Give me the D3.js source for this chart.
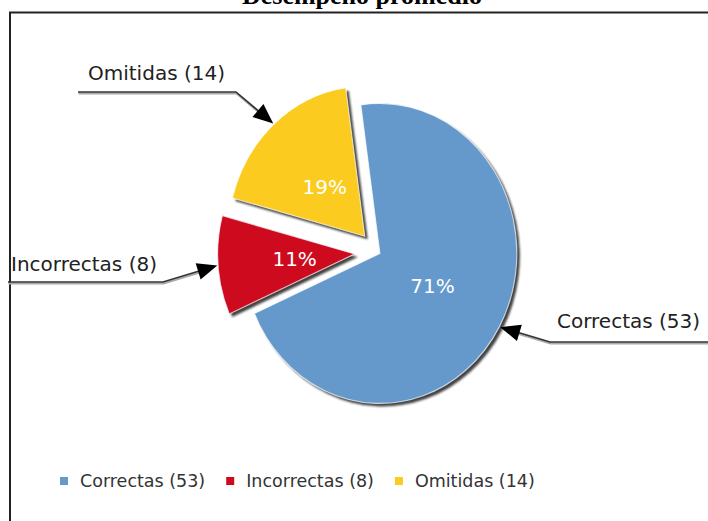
<!DOCTYPE html>
<html><head><meta charset="utf-8">
<script src="https://cdn.jsdelivr.net/npm/d3@7"></script>
<style>body{margin:0;background:#fff}svg{display:block}</style>
</head><body><svg id="c" width="708" height="521"></svg>
<script>
// ---------- data ----------
const title = "Desempeño promedio";
const categories = ["Correctas", "Incorrectas", "Omitidas"];
const values = [53, 8, 14];
const colors = ["#6598cb", "#cd0a1e", "#fccb1f"];

// ---------- layout / style ----------
const W = 708, H = 521;
const center = {x: 377.5, y: 252};
const R = 150, kx = 0.913;
const startDeg = -8;
const explode = [3, 25, 21];
const labelLayout = [
  {text: [557, 328], line: [[708, 342], [550, 342]]},
  {text: [11, 271],  line: [[8, 282], [163, 282]]},
  {text: [88, 80],   line: [[78, 92], [236, 92]]}
];
const font = "'DejaVu Sans', Verdana, sans-serif";

const svg = d3.select("#c");
const defs = svg.append("defs");
defs.append("filter").attr("id", "sh").attr("x", "-10%").attr("y", "-10%").attr("width", "130%").attr("height", "130%")
  .append("feGaussianBlur").attr("stdDeviation", 0.9);

svg.append("rect").attr("width", W).attr("height", H).attr("fill", "#fff");

// title + frame
svg.append("text").attr("x", 362).attr("y", 4).attr("text-anchor", "middle")
  .attr("font-family", "'Liberation Serif', 'Times New Roman', serif").attr("font-weight", "bold")
  .attr("font-size", 26).attr("fill", "#000").text(title);
svg.append("line").attr("x1", 9).attr("x2", W).attr("y1", 12.5).attr("y2", 12.5).attr("stroke", "#222").attr("stroke-width", 2);
svg.append("line").attr("x1", 10).attr("x2", 10).attr("y1", 12).attr("y2", H).attr("stroke", "#222").attr("stroke-width", 2);

// ---------- pie ----------
const total = d3.sum(values);
const rad = d => d * Math.PI / 180;
const pie = d3.pie().sort(null).startAngle(rad(startDeg)).endAngle(rad(startDeg) + 2 * Math.PI);
const arcs = pie(values);
const arc = d3.arc().innerRadius(0).outerRadius(R);

const tipOf = (a, i) => {
  const m = (a.startAngle + a.endAngle) / 2;
  return {x: center.x + kx * explode[i] * Math.sin(m), y: center.y - explode[i] * Math.cos(m)};
};
const onEllipse = (p, ang, r) => ({x: p.x + kx * r * Math.sin(ang), y: p.y - r * Math.cos(ang)});

const pieG = svg.append("g");
// shadows
pieG.selectAll("path.sh").data(arcs).join("path").attr("class", "sh")
  .attr("d", arc)
  .attr("transform", (a, i) => { const t = tipOf(a, i); return `translate(${t.x + 3},${t.y + 3}) scale(${kx},1)`; })
  .attr("fill", "#222").attr("opacity", 0.85).attr("filter", "url(#sh)");
// slices
pieG.selectAll("path.sl").data(arcs).join("path").attr("class", "sl")
  .attr("d", arc)
  .attr("transform", (a, i) => { const t = tipOf(a, i); return `translate(${t.x},${t.y}) scale(${kx},1)`; })
  .attr("fill", (a, i) => colors[i])
  .attr("stroke", "#fff").attr("stroke-width", 1.2).attr("stroke-opacity", 0.7);

// percent labels
const pct = d3.format(".0%");
svg.selectAll("text.pct").data(arcs).join("text").attr("class", "pct")
  .each(function (a, i) {
    const m = (a.startAngle + a.endAngle) / 2;
    const p = onEllipse(tipOf(a, i), m, R * 0.44);
    d3.select(this).attr("x", p.x).attr("y", p.y + 7);
  })
  .attr("text-anchor", "middle").attr("font-family", font).attr("font-size", 20)
  .attr("fill", "#fff").text(a => pct(a.data / total));

// ---------- annotations ----------
const annG = svg.append("g");
arcs.forEach((a, i) => {
  const L = labelLayout[i];
  const m = (a.startAngle + a.endAngle) / 2;
  const tip = onEllipse(tipOf(a, i), m, R + 1);
  const elbow = L.line[1];
  const pts = [L.line[0], elbow, [tip.x, tip.y]];
  const dx = tip.x - elbow[0], dy = tip.y - elbow[1];
  const len = Math.hypot(dx, dy), ux = dx / len, uy = dy / len;
  const hl = 20, hw = 8.5;
  const bx = tip.x - ux * hl, by = tip.y - uy * hl;
  const lineEnd = [bx + ux * 2, by + uy * 2];
  const path = d3.line()([pts[0], pts[1], lineEnd]);
  annG.append("path").attr("d", path).attr("fill", "none").attr("stroke", "#aaa").attr("stroke-width", 2)
    .attr("transform", "translate(0.5,1.5)");
  annG.append("path").attr("d", path).attr("fill", "none").attr("stroke", "#333").attr("stroke-width", 1.6);
  annG.append("polygon")
    .attr("points", [[tip.x, tip.y], [bx - uy * hw, by + ux * hw], [bx + uy * hw, by - ux * hw]].map(p => p.join(",")).join(" "))
    .attr("fill", "#000");
  annG.append("text").attr("x", L.text[0]).attr("y", L.text[1])
    .attr("font-family", font).attr("font-size", 20).attr("fill", "#222")
    .text(`${categories[i]} (${values[i]})`);
});

// ---------- legend ----------
const leg = svg.append("g");
let lx = 60;
categories.forEach((c, i) => {
  leg.append("rect").attr("x", lx).attr("y", 477).attr("width", 8).attr("height", 8).attr("fill", colors[i]);
  const t = leg.append("text").attr("x", lx + 20).attr("y", 487)
    .attr("font-family", font).attr("font-size", 17.5).attr("fill", "#333")
    .text(`${c} (${values[i]})`);
  lx += 20 + t.node().getComputedTextLength() + 21;
});
</script></body></html>
